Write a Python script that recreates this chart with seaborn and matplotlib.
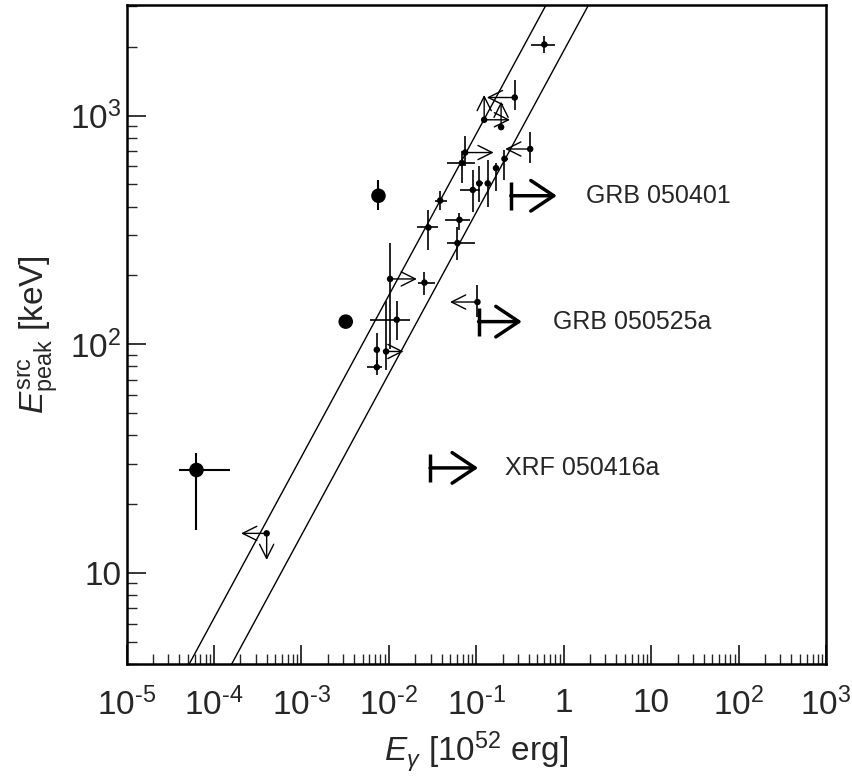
import matplotlib
matplotlib.use("Agg")
import matplotlib.pyplot as plt
import matplotlib.ticker as mticker
import numpy as np
import pandas as pd
import seaborn as sns

# --- data (E_gamma in 1e52 erg, E_peak in keV) ---
# small points: value, error range (lo/hi), optional limit-arrow target
pt_x    = [0.60, 0.275, 0.123, 0.192, 0.413, 0.0745, 0.0683, 0.210, 0.168, 0.108, 0.135,
           0.0912, 0.0386, 0.0283, 0.0641, 0.0608, 0.01032, 0.0255, 0.103, 0.0123,
           0.00728, 0.00929, 0.00728, 4.0e-4]
pt_y    = [2044, 1199, 958, 890, 714, 689, 620, 647, 589, 505, 505,
           473, 425, 324, 350, 277, 193, 186, 153, 128,
           94.6, 93, 79.4, 14.9]
pt_xlo  = [0.42, 0.275, 0.123, 0.180, 0.413, 0.0745, 0.0459, 0.197, 0.155, 0.100, 0.125,
           0.065, 0.0341, 0.0208, 0.044, 0.0459, 0.01032, 0.0217, 0.103, 0.0061,
           0.0068, 0.00929, 0.00558, 4.0e-4]
pt_xhi  = [0.80, 0.275, 0.123, 0.205, 0.413, 0.0745, 0.0968, 0.233, 0.180, 0.118, 0.145,
           0.110, 0.0459, 0.0368, 0.085, 0.0968, 0.01032, 0.0338, 0.103, 0.0175,
           0.0079, 0.00929, 0.0083, 4.0e-4]
pt_ylo  = [1885, 1059, 958, 890, 620, 600, 506, 524, 466, 420, 400,
           380, 387, 259, 316, 234, 95, 164, 132, 104,
           77, 77, 73.5, 14.9]
pt_yhi  = [2230, 1432, 958, 890, 851, 810, 700, 708, 621, 600, 640,
           579, 466, 387, 376, 327, 277, 208, 182, 154,
           112, 154, 85.5, 14.9]
arrow_x = [np.nan, 0.132, 0.243, np.nan, 0.214, 0.158, np.nan, np.nan, np.nan, np.nan, np.nan,
           np.nan, np.nan, np.nan, np.nan, np.nan, 0.0209, np.nan, 0.050, np.nan,
           np.nan, 0.0147, np.nan, 2.04e-4]
arrow_y = [np.nan, np.nan, 1230, 1150, np.nan, np.nan, np.nan, np.nan, np.nan, np.nan, np.nan,
           np.nan, np.nan, np.nan, np.nan, np.nan, np.nan, np.nan, np.nan, np.nan,
           np.nan, np.nan, np.nan, 11.4]

# large points
big_x   = [6.3e-5, 7.6e-3, 3.21e-3]
big_y   = [28.2, 446, 125.6]
big_xlo = [4.0e-5, 7.6e-3, 3.1e-3]
big_xhi = [1.52e-4, 7.6e-3, 3.3e-3]
big_ylo = [15.4, 387, 125.6]
big_yhi = [33.4, 524, 125.6]

# lower limits with labels
lim_names = ['GRB 050401', 'GRB 050525a', 'XRF 050416a']
lim_x     = [0.248, 0.106, 0.0296]
lim_y     = [446, 125.6, 28.8]
lim_to    = [0.834, 0.332, 0.105]
lim_text  = [1.79, 0.757, 0.214]

# Ghirlanda-type relation band: E_peak = K * E_gamma^slope
rel_slope = 0.706
rel_norm  = [4230, 1920]

# ---------------------------------------------------------------------------------------------------------
sns.set_style('ticks')
plt.rcParams['font.family'] = ['Liberation Sans', 'DejaVu Sans']
plt.rcParams['mathtext.fontset'] = 'custom'
plt.rcParams['mathtext.rm'] = 'Liberation Sans'
plt.rcParams['mathtext.it'] = 'Liberation Sans:italic'
plt.rcParams['mathtext.bf'] = 'Liberation Sans:bold'

fig = plt.figure(figsize=(8.53, 7.82), dpi=100)
ax = fig.add_axes([0.1484, 0.1509, 0.82, 0.843])
ax.set_xscale('log')
ax.set_yscale('log')

# relation lines
xgrid = np.logspace(-5, 3, 400)
for k in rel_norm:
    sns.lineplot(x=xgrid, y=k * xgrid ** rel_slope, color='black', lw=1.0, ax=ax)

pts = pd.DataFrame({'x': pt_x, 'y': pt_y})
big = pd.DataFrame({'x': big_x, 'y': big_y})

ax.errorbar(pt_x, pt_y,
            xerr=[np.array(pt_x) - np.array(pt_xlo), np.array(pt_xhi) - np.array(pt_x)],
            yerr=[np.array(pt_y) - np.array(pt_ylo), np.array(pt_yhi) - np.array(pt_y)],
            fmt='none', ecolor='black', elinewidth=1.2, capsize=0)
ax.errorbar(big_x, big_y,
            xerr=[np.array(big_x) - np.array(big_xlo), np.array(big_xhi) - np.array(big_x)],
            yerr=[np.array(big_y) - np.array(big_ylo), np.array(big_yhi) - np.array(big_y)],
            fmt='none', ecolor='black', elinewidth=1.5, capsize=0)
sns.scatterplot(data=pts, x='x', y='y', color='black', s=22, edgecolor='none', ax=ax, zorder=5)
sns.scatterplot(data=big, x='x', y='y', color='black', s=110, edgecolor='none', ax=ax, zorder=5)

# limit arrows on individual points
for x, y, tx, ty in zip(pt_x, pt_y, arrow_x, arrow_y):
    if not np.isnan(tx):
        ax.annotate('', xy=(tx, y), xytext=(x, y),
                    arrowprops=dict(arrowstyle='->,head_length=0.6,head_width=0.3',
                                    lw=1.0, color='black', shrinkA=0, shrinkB=0,
                                    mutation_scale=17))
    if not np.isnan(ty):
        ax.annotate('', xy=(x, ty), xytext=(x, y),
                    arrowprops=dict(arrowstyle='->,head_length=0.6,head_width=0.3',
                                    lw=1.0, color='black', shrinkA=0, shrinkB=0,
                                    mutation_scale=17))

# labelled lower limits
for name, x, y, tx, lx in zip(lim_names, lim_x, lim_y, lim_to, lim_text):
    ax.plot([x], [y], marker='|', markersize=20, mew=2.5, color='black')
    ax.annotate('', xy=(tx, y), xytext=(x, y),
                arrowprops=dict(arrowstyle='->,head_length=0.75,head_width=0.5',
                                lw=2.5, color='black', shrinkA=0, shrinkB=0,
                                mutation_scale=22))
    ax.text(lx, y, name, fontsize=18, va='center', ha='left')

ax.set_xlim(1e-5, 1e3)
ax.set_ylim(4, 3050)


def fmt_tick(v, pos):
    n = int(round(np.log10(v)))
    if n == 0:
        return '1'
    if n == 1:
        return '10'
    if n < 0:
        return '$10^{\u2010%d}$' % (-n)
    return r'$10^{%d}$' % n


ax.xaxis.set_major_locator(mticker.LogLocator(base=10, numticks=20))
ax.xaxis.set_minor_locator(mticker.LogLocator(base=10, subs=np.arange(2, 10), numticks=20))
ax.xaxis.set_major_formatter(mticker.FuncFormatter(fmt_tick))
ax.yaxis.set_major_formatter(mticker.FuncFormatter(fmt_tick))
ax.xaxis.set_minor_formatter(mticker.NullFormatter())
ax.yaxis.set_minor_formatter(mticker.NullFormatter())

ax.tick_params(which='major', direction='in', length=14, width=1.3, labelsize=24,
               top=False, right=False)
ax.tick_params(axis='x', which='major', pad=17)
ax.tick_params(axis='y', which='major', pad=4)
ax.tick_params(which='minor', direction='in', length=7, width=1.0, top=False, right=False)
for sp in ax.spines.values():
    sp.set_linewidth(1.8)
    sp.set_color('black')

ax.set_xlabel(r'$E_{\gamma}$ [10$^{52}$ erg]', fontsize=24, labelpad=6)
ax.set_ylabel(r'$E_{\rm peak}^{\rm src}$ [keV]', fontsize=24, labelpad=6)

fig.savefig('out.png', dpi=100, facecolor='white')
